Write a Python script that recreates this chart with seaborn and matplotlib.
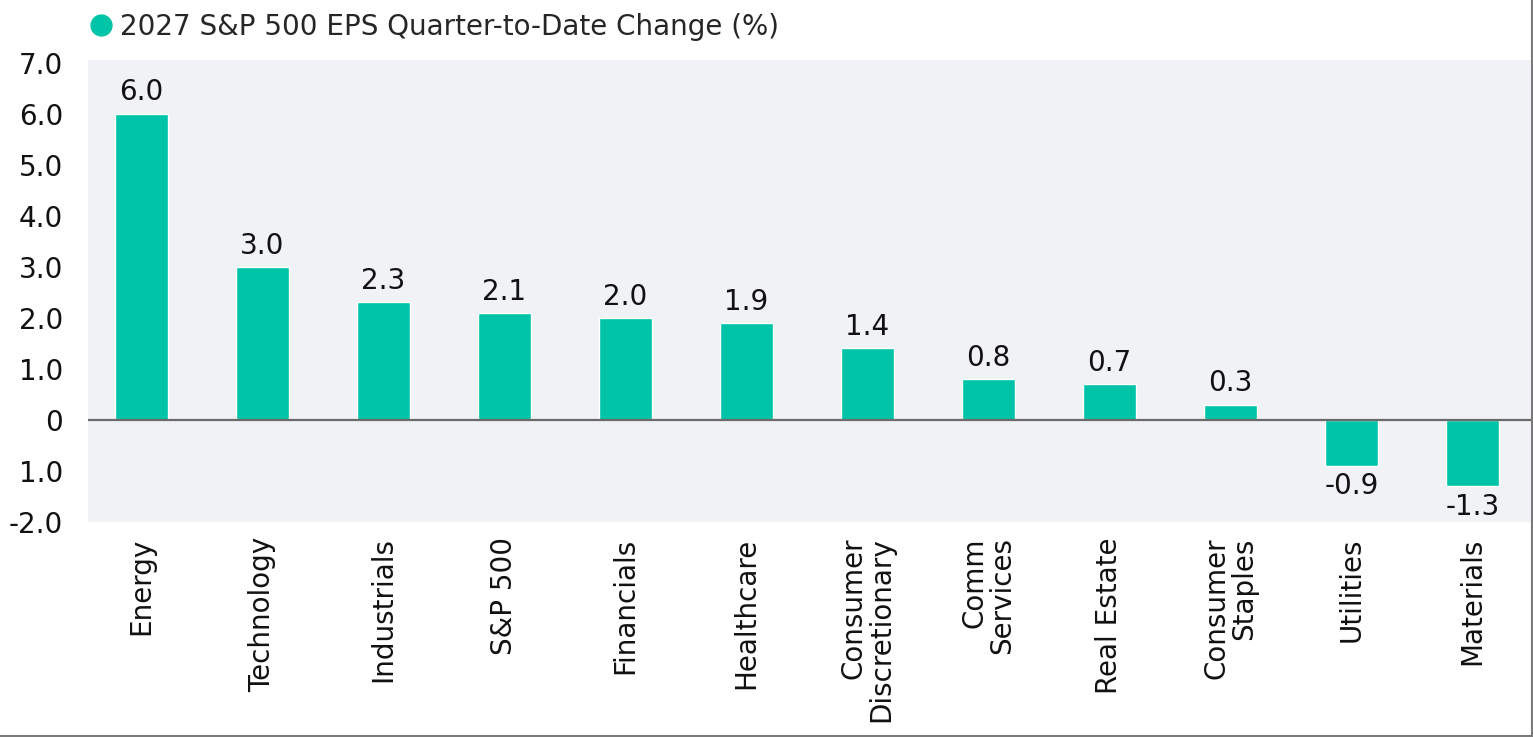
import matplotlib
matplotlib.use("Agg")
import matplotlib.pyplot as plt
from matplotlib.lines import Line2D
import seaborn as sns
import pandas as pd

# chart data
sectors = ["Energy", "Technology", "Industrials", "S&P 500", "Financials", "Healthcare",
           "Consumer\nDiscretionary", "Comm\nServices", "Real Estate", "Consumer\nStaples",
           "Utilities", "Materials"]
eps_change = [6.0, 3.0, 2.3, 2.1, 2.0, 1.9, 1.4, 0.8, 0.7, 0.3, -0.9, -1.3]
y_ticks = [7, 6, 5, 4, 3, 2, 1, 0, -1, -2]
y_tick_labels = ["7.0", "6.0", "5.0", "4.0", "3.0", "2.0", "1.0", "0", "1.0", "-2.0"]
series_name = "2027 S&P 500 EPS Quarter-to-Date Change (%)"

teal = "#00c4a7"
bg = "#f1f2f5"
fs = 20

sns.set_style("white")
plt.rcParams["font.family"] = ["DejaVu Sans"]

df = pd.DataFrame({"sector": sectors, "change": eps_change})

fig = plt.figure(figsize=(15.33, 7.37), dpi=100)
ax = fig.add_axes([88 / 1533, 1 - 522 / 737, 1 - 88 / 1533, (522 - 60) / 737])
ax.set_facecolor(bg)

sns.barplot(data=df, x="sector", y="change", color=teal, width=0.44, ax=ax, saturation=1)

ax.set_xlim(-0.44, 11.5)
ax.set_ylim(-2.0, 7.05)
ax.axhline(0, color="#6b6b6b", lw=1.6, zorder=3)

for i, v in enumerate(eps_change):
    if v >= 0:
        ax.text(i, v + 0.14, f"{v:.1f}", ha="center", va="bottom", fontsize=fs, color="#111111")
    else:
        ax.text(i, v - 0.13, f"{v:.1f}", ha="center", va="top", fontsize=fs, color="#111111")

ax.set_yticks(y_ticks)
ax.set_yticklabels(y_tick_labels, fontsize=fs, color="#111111")
ax.set_xticks(range(len(sectors)))
ax.set_xticklabels(sectors, rotation=90, fontsize=fs, color="#111111",
                   ha="center", va="top", multialignment="right", linespacing=0.95)
ax.tick_params(axis="y", length=0, pad=18)
ax.tick_params(axis="x", length=0, pad=11)
ax.set_xlabel("")
ax.set_ylabel("")
for s in ax.spines.values():
    s.set_visible(False)

handle = Line2D([], [], marker="o", color=teal, lw=0, markersize=15)
fig.legend([handle], [series_name], loc="center left", bbox_to_anchor=(70 / 1533, 1 - 27 / 737),
           frameon=False, fontsize=fs, handletextpad=0.1, borderpad=0, handlelength=1.2)

# thin frame on the right and bottom edges
fig.add_artist(Line2D([0.9993, 0.9993], [0, 1], color="#7a7a7a", lw=1.5, transform=fig.transFigure))
fig.add_artist(Line2D([0, 1], [0.001, 0.001], color="#7a7a7a", lw=1.5, transform=fig.transFigure))

fig.savefig("out.png", dpi=100, facecolor="white")
